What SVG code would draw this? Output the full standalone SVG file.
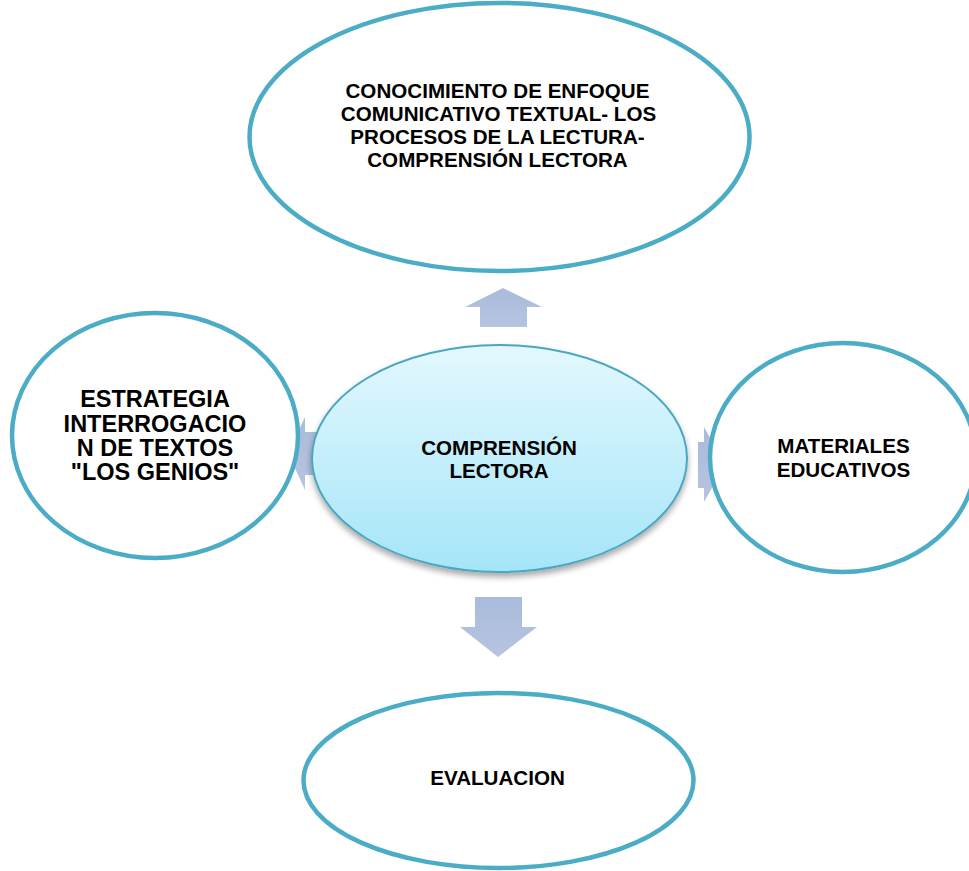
<svg xmlns="http://www.w3.org/2000/svg" width="969" height="871" viewBox="0 0 969 871">
<defs>
<linearGradient id="cg" x1="0" y1="0" x2="0" y2="1">
<stop offset="0" stop-color="#E3F8FE"/>
<stop offset="1" stop-color="#A5E5F8"/>
</linearGradient>
<linearGradient id="ag" x1="0" y1="0" x2="0" y2="1">
<stop offset="0" stop-color="#A9BBDB"/>
<stop offset="1" stop-color="#B6C4E0"/>
</linearGradient>
<filter id="sh" x="-10%" y="-10%" width="120%" height="130%">
<feGaussianBlur in="SourceAlpha" stdDeviation="3"/>
<feOffset dx="0" dy="4"/>
<feComponentTransfer><feFuncA type="linear" slope="0.35"/></feComponentTransfer>
<feMerge><feMergeNode/><feMergeNode in="SourceGraphic"/></feMerge>
</filter>
</defs>
<style>
.node{fill:#FFFFFF;stroke:#4BACC6;stroke-width:4.5}
.center{fill:url(#cg);stroke:#4BA6C2;stroke-width:2}
.arrow{fill:url(#ag);stroke:none}
text{font-family:"Liberation Sans",Arial,sans-serif;font-weight:bold;fill:#000;text-anchor:middle}
.t21{font-size:20.6px}
.t23{font-size:23.5px}
</style>
<rect width="969" height="871" fill="#FFFFFF"/>
<g id="connectors">
<polygon class="arrow" points="503,288 542,307 527,307 527,327 480,327 480,307 465,307"/>
<polygon class="arrow" points="475,597 522,597 522,627 537,627 498,657 460,627 475,627"/>
<polygon class="arrow" points="288,453 305,417 305,432 330,432 330,475 305,475 305,490"/>
<polygon class="arrow" points="725,465 704,427 704,442 698,442 698,488 704,488 704,502"/>
</g>
<g id="node-top">
<ellipse class="node" cx="499.5" cy="137" rx="250" ry="134"/>
<text class="t21" x="497.5" y="98">CONOCIMIENTO DE ENFOQUE</text>
<text class="t21" x="498.5" y="121">COMUNICATIVO TEXTUAL- LOS</text>
<text class="t21" x="497.5" y="144">PROCESOS DE LA LECTURA-</text>
<text class="t21" x="497.5" y="167">COMPRENSIÓN LECTORA</text>
</g>
<g id="node-left">
<ellipse class="node" cx="155" cy="435.5" rx="143" ry="122.5"/>
<text class="t23" x="155" y="407">ESTRATEGIA</text>
<text class="t23" x="155" y="431.5">INTERROGACIO</text>
<text class="t23" x="155" y="456">N DE TEXTOS</text>
<text class="t23" x="155" y="480">"LOS GENIOS"</text>
</g>
<g id="node-right">
<ellipse class="node" cx="843" cy="457.5" rx="133" ry="114.5"/>
<text class="t21" x="843.5" y="453">MATERIALES</text>
<text class="t21" x="843.5" y="477">EDUCATIVOS</text>
</g>
<g id="node-bottom">
<ellipse class="node" cx="498.5" cy="780.5" rx="195" ry="87.5"/>
<text class="t21" x="497.5" y="785">EVALUACION</text>
</g>
<g id="node-center">
<ellipse class="center" cx="499.5" cy="458.5" rx="187.5" ry="113.5" filter="url(#sh)"/>
<text class="t21" x="499" y="455">COMPRENSIÓN</text>
<text class="t21" x="499" y="478">LECTORA</text>
</g>
</svg>
